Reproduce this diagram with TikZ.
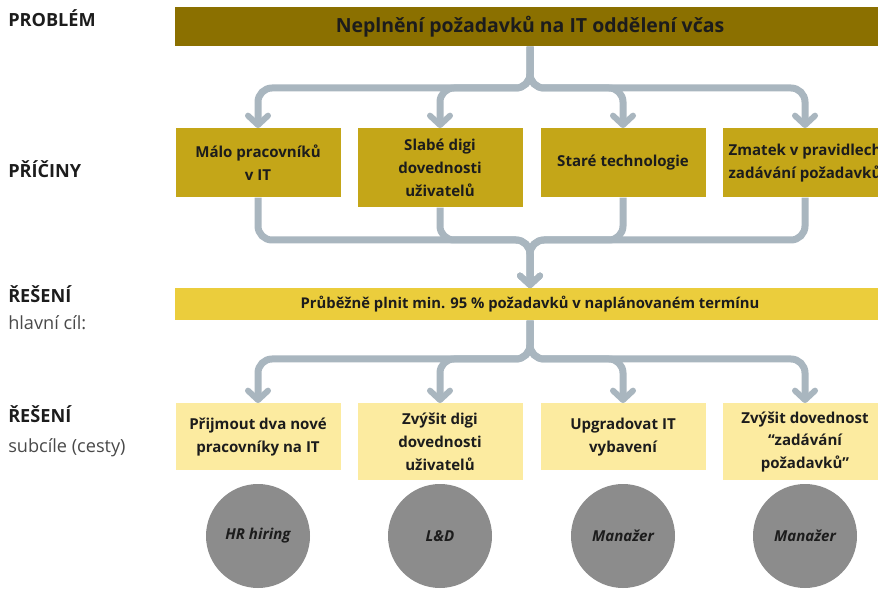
\documentclass[tikz,border=0pt]{standalone}
\usepackage{fontspec}
\setmainfont{Open Sans}
\usetikzlibrary{arrows.meta, positioning, calc}

\definecolor{problemOlive}{HTML}{8B7000}
\definecolor{causeGold}{HTML}{C4A618}
\definecolor{goalYellow}{HTML}{EBCD3C}
\definecolor{subYellow}{HTML}{FCEBA0}
\definecolor{connGrey}{HTML}{A9B6BF}
\definecolor{ownerGrey}{HTML}{8C8C8C}
\definecolor{textDark}{HTML}{1C1C1C}

\tikzset{
    rowLabel/.style={anchor=north west, inner sep=0pt, text=textDark, font=\fontsize{13.6}{16}\selectfont\bfseries},
    rowNote/.style={anchor=north west, inner sep=0pt, text=textDark!80, font=\fontsize{13.6}{16}\selectfont},
    wideBox/.style={rectangle, anchor=north, inner sep=0pt, minimum width=532.5pt, text=textDark},
    causeBox/.style={rectangle, anchor=north, fill=causeGold, inner sep=0pt, minimum width=123.75pt, align=center, text=textDark, font=\fontsize{11.3}{17}\selectfont\bfseries},
    subBox/.style={causeBox, fill=subYellow},
    ownerNode/.style={circle, fill=ownerGrey, inner sep=0pt, minimum size=78pt, text=textDark, font=\fontsize{11.3}{13}\selectfont\bfseries\itshape},
    connLine/.style={connGrey, line width=5.25pt, rounded corners=10.5pt, -{Straight Barb[length=7pt, width=15pt, line width=4.5pt, round]}}
}

\begin{document}
\begin{tikzpicture}[x=0.75pt, y=-0.75pt]
        
        % Frame
        \useasboundingbox (0,0) rectangle (878,591);
        \clip (0,0) rectangle (878,591);

        % --- Row labels ---
        \node[rowLabel] (lblProblem) at (8,9)   {PROBLÉM};
        \node[rowLabel] (lblCauses)  at (8,160) {PŘÍČINY};
        \node[rowLabel] (lblGoal)    at (8,285) {ŘEŠENÍ};
        \node[rowNote]  (noteGoal)   at (8,315) {hlavní cíl:};
        \node[rowLabel] (lblSub)     at (8,405) {ŘEŠENÍ};
        \node[rowNote]  (noteSub)    at (8,438) {subcíle (cesty)};

        % --- Problem ---
        \node[wideBox, fill=problemOlive, minimum height=29.25pt, font=\fontsize{14.6}{17}\selectfont\bfseries] (problem) at (530,7)
            {Neplnění požadavků na IT oddělení včas};

        % --- Causes ---
        \node[causeBox, minimum height=51.75pt] (cause1) at (258,128) {Málo pracovníků\\v IT};
        \node[causeBox, minimum height=59.25pt] (cause2) at (440,128) {Slabé digi\\dovednosti\\uživatelů};
        \node[causeBox, minimum height=51.75pt] (cause3) at (623,128) {Staré technologie};
        \node[causeBox, minimum height=51.75pt] (cause4) at (805,128) {Zmatek v pravidlech\\zadávání požadavků};

        % --- Main goal ---
        \node[wideBox, fill=goalYellow, minimum height=24pt, font=\fontsize{11.1}{13}\selectfont\bfseries] (goal) at (530,288)
            {Průběžně plnit min. 95 \% požadavků v naplánovaném termínu};

        % --- Sub-goals ---
        \node[subBox, minimum height=50.25pt] (sub1) at (258,403) {Přijmout dva nové\\pracovníky na IT};
        \node[subBox, minimum height=57.75pt] (sub2) at (440,403) {Zvýšit digi\\dovednosti\\uživatelů};
        \node[subBox, minimum height=50.25pt] (sub3) at (623,403) {Upgradovat IT\\vybavení};
        \node[subBox, minimum height=57.75pt] (sub4) at (805,403) {Zvýšit dovednost\\“zadávání\\požadavků”};

        % --- Owners ---
        \node[ownerNode] (owner1) at (258,536) {HR hiring};
        \node[ownerNode] (owner2) at (440,536) {L\&D};
        \node[ownerNode] (owner3) at (623,536) {Manažer};
        \node[ownerNode] (owner4) at (805,536) {Manažer};

        % --- Connectors ---
        \coordinate (split) at (530,88);
        \coordinate (merge) at (530,240);
        \coordinate (fork)  at (530,359);

        \foreach \n in {1,...,4} {
            \draw[connLine] (problem.south) |- (cause\n.north |- split) -- (cause\n.north);
            \draw[connLine] (cause\n.south) |- (merge) -- (goal.north);
            \draw[connLine] (goal.south) |- (sub\n.north |- fork) -- (sub\n.north);
        }
        
    \end{tikzpicture}
\end{document}
